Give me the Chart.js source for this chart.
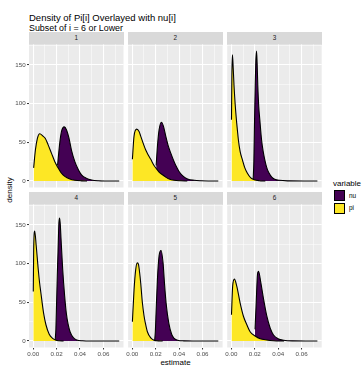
<!DOCTYPE html>
<html>
<head>
<meta charset="utf-8">
<script src="https://cdn.jsdelivr.net/npm/chart.js@4.4.1/dist/chart.umd.min.js"></script>
<style>
  html, body { margin: 0; padding: 0; background: #ffffff; }
  #page { position: relative; width: 362px; height: 366px; overflow: hidden;
          font-family: "Liberation Sans", Arial, Helvetica, sans-serif; }
  #page canvas { position: absolute; left: 0; top: 0; }
  .t { position: absolute; white-space: nowrap; line-height: 1; }
  .strip { position: absolute; background: #D9D9D9; color: #1A1A1A; font-size: 6.4px;
           display: flex; align-items: center; justify-content: center; line-height: 1; }
  .key { position: absolute; box-sizing: border-box; border: 1px solid #000000; }
</style>
</head>
<body>
<div id="page">
  <div class="t" style="left:29px;top:13px;font-size:9.5px;color:#000">Density of Pi[i] Overlayed with nu[i]</div>
  <div class="t" style="left:29px;top:24px;font-size:8.9px;color:#000">Subset of i = 6 or Lower</div>
  <div class="t" style="left:175.5px;top:358.5px;font-size:8px;color:#000;transform:translateX(-50%)">estimate</div>
  <div class="t" style="left:10px;top:189.5px;font-size:8px;color:#000;transform:translate(-50%,-50%) rotate(-90deg)">density</div>
  <div class="t" style="left:333px;top:180px;font-size:8px;color:#000">variable</div>
  <div id="legend"></div>
</div>
<script>
// Facet labels and series names
const panelLabels = ['1', '2', '3', '4', '5', '6'];
const seriesNames = ['nu', 'pi'];

// Kernel density curves: [estimate, density] per facet
const pi1 = [[0.0004,17],[0.0019,40],[0.0036,55],[0.0056,61],[0.0084,58],[0.0104,55],[0.0127,47],[0.0156,36],[0.0185,25],[0.0213,17],[0.0242,10],[0.0270,6],[0.0313,2.6],[0.0356,1],[0.0413,0.2],[0.046,0]];
const nu1 = [[0.0208,20],[0.0227,49],[0.0242,64],[0.0265,70],[0.0285,66],[0.0305,56],[0.0327,40],[0.0356,25],[0.0385,15],[0.0413,8],[0.0456,3.4],[0.0499,1.3],[0.0556,0.3],[0.062,0.05],[0.0735,0]];

const pi2 = [[0.0001,28],[0.0015,58],[0.0038,67],[0.0058,64],[0.0072,58],[0.0095,48],[0.0115,40],[0.0135,34],[0.0158,28],[0.0186,20],[0.0206,16],[0.0229,11.6],[0.0258,8],[0.0286,5],[0.0315,2.6],[0.0358,1],[0.0415,0.3],[0.047,0]];
const nu2 = [[0.0204,20],[0.0215,45],[0.0229,66],[0.0249,76],[0.0266,71],[0.0286,58],[0.0306,46],[0.0329,36],[0.0352,27],[0.0372,20],[0.0401,12],[0.0429,7],[0.0472,2.6],[0.0530,0.9],[0.0587,0.3],[0.065,0.05],[0.0735,0]];

const pi3 = [[0.0001,79],[0.0004,135],[0.0009,163],[0.0016,145],[0.0023,122],[0.0032,100],[0.0043,79],[0.0052,65],[0.0060,53],[0.0075,38],[0.0095,27],[0.0115,17],[0.0137,10],[0.0166,4],[0.0195,1.7],[0.0238,0.4],[0.029,0]];
const nu3 = [[0.0186,2],[0.0192,25],[0.0198,79],[0.0204,125],[0.0209,155],[0.0215,168],[0.0220,152],[0.0226,122],[0.0234,96],[0.0243,79],[0.0258,53],[0.0272,38],[0.0286,27],[0.0305,16],[0.0323,10],[0.0345,5],[0.0370,2.4],[0.041,0.9],[0.048,0.2],[0.0735,0]];

const pi4 = [[0.0001,64],[0.0004,115],[0.0009,140],[0.0013,142],[0.0026,123],[0.0043,93],[0.0055,75],[0.0066,62],[0.0089,36],[0.0109,21],[0.0137,8.7],[0.0166,3.5],[0.0195,1],[0.022,0.3],[0.026,0]];
const nu4 = [[0.0188,1.3],[0.0194,15],[0.0200,49],[0.0206,85],[0.0212,114],[0.0220,153],[0.0226,159],[0.0232,150],[0.0238,132],[0.0252,93],[0.0269,58],[0.0283,36],[0.0298,22],[0.0315,12],[0.0343,4.3],[0.0372,1.3],[0.042,0.3],[0.05,0.05],[0.0735,0]];

const pi5 = [[0.0001,25],[0.0015,66],[0.0029,92],[0.0043,101],[0.0053,99],[0.0066,84],[0.0072,75],[0.0086,50],[0.0100,33],[0.0112,23],[0.0129,12],[0.0158,4],[0.0186,1],[0.022,0.2],[0.026,0]];
const nu5 = [[0.0191,1],[0.0197,12],[0.0203,36],[0.0215,80],[0.0229,110],[0.0246,117],[0.0263,101],[0.0275,75],[0.0289,49],[0.0312,23],[0.0338,8],[0.0358,3.5],[0.0387,1],[0.044,0.2],[0.052,0.05],[0.0735,0]];

const pi6 = [[0.0001,34],[0.0011,71],[0.0026,80],[0.0046,71],[0.0075,49],[0.0103,32],[0.0132,21],[0.0160,12],[0.0203,6.5],[0.0246,3],[0.0303,1.3],[0.0360,0.4],[0.045,0]];
const nu6 = [[0.0202,15],[0.0212,49],[0.0223,86],[0.0232,90],[0.0252,75],[0.0275,54],[0.0303,32],[0.0332,16.5],[0.0360,7.8],[0.0403,2.6],[0.0446,1],[0.052,0.2],[0.0735,0]];

const piCurves = [pi1, pi2, pi3, pi4, pi5, pi6];
const nuCurves = [nu1, nu2, nu3, nu4, nu5, nu6];

// Axis breaks (blank label = minor grid line)
const xTickValues = [0, 0.01, 0.02, 0.03, 0.04, 0.05, 0.06, 0.07];
const xTickLabels = ['0.00', '', '0.02', '', '0.04', '', '0.06', ''];
const yTickValues = [0, 25, 50, 75, 100, 125, 150, 175];
const yTickLabels = ['0', '', '50', '', '100', '', '150', ''];

// Shared scale limits with 5% expansion around the data range
const allPts = piCurves.concat(nuCurves).flat();
const xs = allPts.map(p => p[0]);
const ys = allPts.map(p => p[1]);
const xLo = Math.min(...xs), xHi = Math.max(...xs);
const yLo = 0, yHi = Math.max(...ys);
const xPad = 0.05 * (xHi - xLo), yPad = 0.05 * (yHi - yLo);

// Page layout
const PAGE_W = 362, PAGE_H = 366;
const colX = [29, 128.1, 227.2];
const rowY = [44.5, 204.5];
const panelW = 94.5, panelH = 143, stripH = 12.5;
const fontFamily = "'Liberation Sans', Arial, Helvetica, sans-serif";
const fills = { nu: '#440154', pi: '#FDE725' };

const panelBackground = {
  id: 'panelBackground',
  beforeDraw(chart) {
    const a = chart.chartArea;
    const c = chart.ctx;
    c.save();
    c.fillStyle = '#EBEBEB';
    c.fillRect(a.left, a.top, a.right - a.left, a.bottom - a.top);
    c.restore();
  }
};

const page = document.getElementById('page');

panelLabels.forEach((label, i) => {
  const col = i % 3, row = Math.floor(i / 3);
  const left = colX[col], top = rowY[row];
  const bottomSpace = PAGE_H - top - panelH;

  const strip = document.createElement('div');
  strip.className = 'strip';
  strip.style.left = left + 'px';
  strip.style.top = (top - stripH) + 'px';
  strip.style.width = panelW + 'px';
  strip.style.height = stripH + 'px';
  strip.textContent = label;
  page.appendChild(strip);

  const canvas = document.createElement('canvas');
  canvas.width = PAGE_W; canvas.height = PAGE_H;
  canvas.style.width = PAGE_W + 'px'; canvas.style.height = PAGE_H + 'px';
  page.appendChild(canvas);

  const showX = row === 1, showY = col === 0;
  const curve = (pts) => pts.map(([x, y]) => ({ x, y }));

  // Axis boxes take the whole margin so the panel lands exactly where wanted
  const fitX = s => { s.height = bottomSpace; s.paddingLeft = 0; s.paddingRight = 0; s.paddingTop = 0; s.paddingBottom = 0; };
  const fitY = s => { s.width = left; s.paddingLeft = 0; s.paddingRight = 0; s.paddingTop = 0; s.paddingBottom = 0; };

  new Chart(canvas, {
    type: 'line',
    data: {
      datasets: [
        { label: 'pi', data: curve(piCurves[i]), backgroundColor: fills.pi, borderColor: '#000000',
          borderWidth: 1.1, fill: 'origin', pointRadius: 0, cubicInterpolationMode: 'monotone' },
        { label: 'nu', data: curve(nuCurves[i]), backgroundColor: fills.nu, borderColor: '#000000',
          borderWidth: 1.1, fill: 'origin', pointRadius: 0, cubicInterpolationMode: 'monotone' }
      ]
    },
    options: {
      responsive: false,
      animation: false,
      events: [],
      layout: { padding: { left: 0, top: top, right: PAGE_W - left - panelW, bottom: 0 } },
      plugins: { legend: { display: false }, tooltip: { enabled: false }, title: { display: false } },
      scales: {
        x: {
          type: 'linear',
          min: xLo - xPad, max: xHi + xPad,
          afterBuildTicks: s => { s.ticks = xTickValues.map(v => ({ value: v })); },
          afterFit: fitX,
          border: { display: false },
          grid: {
            color: '#FFFFFF',
            lineWidth: c => (xTickLabels[c.index] ? 1.07 : 0.53),
            drawTicks: showX, tickLength: 2,
            tickColor: c => (xTickLabels[c.index] ? '#333333' : 'rgba(0,0,0,0)'),
            tickWidth: 1
          },
          ticks: {
            display: showX, autoSkip: false, maxRotation: 0, minRotation: 0, padding: 1.2,
            color: '#4D4D4D', font: { family: fontFamily, size: 6.2 },
            callback: (v, idx) => xTickLabels[idx]
          }
        },
        y: {
          type: 'linear',
          min: yLo - yPad, max: yHi + yPad,
          afterBuildTicks: s => { s.ticks = yTickValues.map(v => ({ value: v })); },
          afterFit: fitY,
          border: { display: false },
          grid: {
            color: '#FFFFFF',
            lineWidth: c => (yTickLabels[c.index] ? 1.07 : 0.53),
            drawTicks: showY, tickLength: 2,
            tickColor: c => (yTickLabels[c.index] ? '#333333' : 'rgba(0,0,0,0)'),
            tickWidth: 1
          },
          ticks: {
            display: showY, autoSkip: false, padding: 1.4,
            color: '#4D4D4D', font: { family: fontFamily, size: 6.2 },
            callback: (v, idx) => yTickLabels[idx]
          }
        }
      }
    },
    plugins: [panelBackground]
  });
});

// Fill legend
const legend = document.getElementById('legend');
seriesNames.forEach((name, k) => {
  const key = document.createElement('div');
  key.className = 'key';
  key.style.left = '333.7px';
  key.style.top = (190 + k * 12.8) + 'px';
  key.style.width = '11.5px';
  key.style.height = '11.2px';
  key.style.background = fills[name];
  legend.appendChild(key);
  const txt = document.createElement('div');
  txt.className = 't';
  txt.style.left = '349px';
  txt.style.top = (192.5 + k * 12.8) + 'px';
  txt.style.fontSize = '6.4px';
  txt.style.color = '#000';
  txt.textContent = name;
  legend.appendChild(txt);
});
</script>
</body>
</html>
